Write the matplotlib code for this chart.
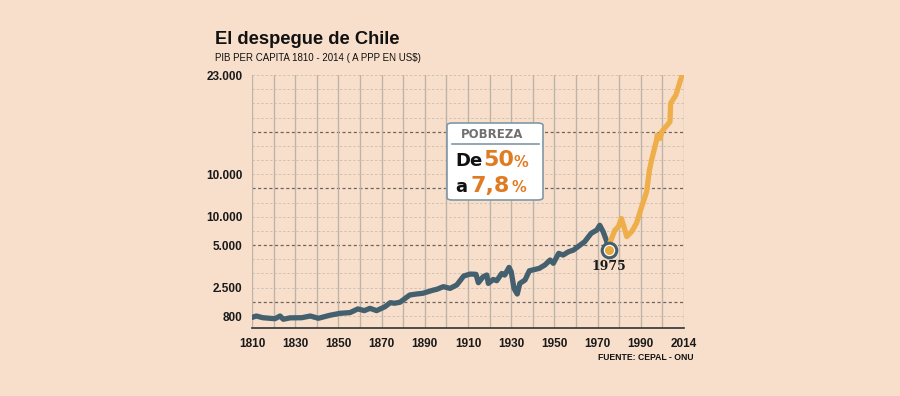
import numpy as np
import matplotlib.pyplot as plt
from matplotlib.patches import FancyBboxPatch

# dark series (1810-1975), y in chart grid units
years_a = [1810, 1812, 1815, 1820.6, 1823, 1824.5, 1827.6, 1833, 1837, 1840.7, 1846,
           1850.7, 1855.4, 1859, 1862, 1864.6, 1867.7, 1871.6, 1874, 1876, 1878.5,
           1883, 1886, 1889, 1894, 1895.5, 1898.6, 1901.7, 1904.8, 1908, 1911,
           1913.7, 1914.8, 1917, 1918.7, 1919.4, 1921.7, 1923.3, 1925.6, 1927, 1929,
           1930, 1931.3, 1932.8, 1934, 1936.4, 1938.4, 1943, 1945.6, 1948, 1949.5,
           1952, 1954, 1956.5, 1958.8, 1961, 1964, 1967, 1969.6, 1971, 1972.6, 1974, 1975]
vals_a = [-0.1, 0.0, -0.12, -0.19, 0.0, -0.23, -0.13, -0.12, 0.0, -0.16, 0.05,
          0.19, 0.24, 0.5, 0.38, 0.54, 0.38, 0.66, 0.94, 0.9, 0.97,
          1.48, 1.55, 1.6, 1.83, 1.88, 2.07, 1.95, 2.19, 2.82, 2.96,
          2.94, 2.35, 2.77, 2.89, 2.3, 2.58, 2.49, 3.0, 2.89, 3.43,
          3.12, 1.95, 1.55, 2.3, 2.54, 3.19, 3.36, 3.6, 3.95, 3.72,
          4.42, 4.3, 4.53, 4.65, 4.9, 5.24, 5.83, 6.06, 6.4, 5.94, 5.36, 4.88]

# orange series (1975-2014)
years_b = [1975.3, 1975.7, 1978, 1979.6, 1981, 1982.2, 1983.5, 1985.8, 1988, 1990.4,
           1992.7, 1994, 1995, 1997.3, 1997.6, 1999, 1999.7, 2003.5, 2003.8, 2006.3, 2008.9]
vals_b = [4.65, 5.17, 6.06, 6.3, 6.88, 6.3, 5.6, 5.96, 6.54, 7.7,
          8.77, 10.3, 11.0, 12.4, 12.76, 12.53, 13.0, 13.7, 15.0, 15.6, 16.9]

ytick_pos = [0, 2, 5, 7, 10, 17]
ytick_labels = ['800', '2.500', '5.000', '10.000', '10.000', '23.000']
xtick_pos = [1810, 1830, 1850, 1870, 1890, 1910, 1930, 1950, 1970, 1990, 2010]
xtick_labels = ['1810', '1830', '1850', '1870', '1890', '1910', '1930', '1950', '1970', '1990', '2014']

bg = '#f8dfcb'
dark = '#44606f'
orange = '#eeae4a'
sans = ['Liberation Sans', 'DejaVu Sans']

fig = plt.figure(figsize=(9, 3.96), dpi=100, facecolor=bg)
ax = fig.add_axes([0.28, 0.1717, 0.48, 0.6389], facecolor=bg)

ax.set_xlim(1810, 2010)
ax.set_ylim(-0.846, 17)

# grid
for yv in range(0, 18):
    if yv in (1, 5, 9, 13):
        ax.axhline(yv, color='#6e645e', lw=0.9, ls=(0, (2.5, 2)), zorder=1)
    else:
        ax.axhline(yv, color='#d3c1b2', lw=0.7, ls=(0, (2.5, 2)), zorder=1)
for xv in range(1810, 2011, 10):
    ax.axvline(xv, color='#bdb3ab', lw=1.0, zorder=1)

ax.plot(years_a, vals_a, color=dark, lw=3.8, solid_capstyle='round',
        solid_joinstyle='round', zorder=3)
ax.plot(years_b, vals_b, color=orange, lw=3.8, solid_capstyle='round',
        solid_joinstyle='round', zorder=3)

# 1975 marker
ax.scatter([1975.3], [4.65], s=110, color='white', edgecolor=dark, linewidth=2.2, zorder=5)
ax.scatter([1975.3], [4.65], s=30, color='#e8a93a', zorder=6)
ax.text(1975.3, 3.5, '1975', ha='center', va='center', fontsize=9, fontweight='bold',
        family='DejaVu Serif', color='#1a1a1a', zorder=6)

for s in ['top', 'right', 'left']:
    ax.spines[s].set_visible(False)
ax.spines['bottom'].set_color('#333333')
ax.spines['bottom'].set_linewidth(1.2)

ax.set_yticks(ytick_pos)
ax.set_yticklabels(ytick_labels)
ax.set_xticks(xtick_pos)
ax.set_xticklabels(xtick_labels)
ax.tick_params(axis='both', length=0, labelsize=8.5, colors='#1a1a1a')
ax.tick_params(axis='y', pad=7)
ax.tick_params(axis='x', pad=7)
for lab in ax.get_xticklabels() + ax.get_yticklabels():
    lab.set_family(sans)
    lab.set_fontweight('bold')

# titles
fig.text(215 / 900, 1 - 40 / 396, 'El despegue de Chile', fontsize=13.2, fontweight='bold',
         family=sans, color='#111111', va='center', ha='left')
fig.text(215 / 900, 1 - 58 / 396, 'PIB PER CAPITA 1810 - 2014 ( A PPP EN US$)', fontsize=7,
         family=sans, color='#111111', va='center', ha='left')
fig.text(694 / 900, 1 - 357 / 396, 'FUENTE: CEPAL - ONU', fontsize=6.2, fontweight='bold',
         family=sans, color='#111111', va='center', ha='right')

# poverty box
box = FancyBboxPatch((447 / 900, 1 - 200 / 396), 96 / 900, 77 / 396,
                     boxstyle='round,pad=0,rounding_size=0.006', transform=fig.transFigure,
                     facecolor='white', edgecolor='#8197a6', linewidth=1.2, zorder=10)
fig.add_artist(box)
fig.add_artist(plt.Line2D([452 / 900, 539 / 900], [1 - 144 / 396, 1 - 144 / 396],
                          transform=fig.transFigure, color='#8197a6', lw=1.2, zorder=11))
fig.text(492 / 900, 1 - 135 / 396, 'POBREZA', fontsize=8.5, fontweight='bold',
         color='#707070', ha='center', va='center', zorder=12)
fig.text(455 / 900, 1 - 161 / 396, 'De', fontsize=13, fontweight='bold',
         color='#111111', ha='left', va='center', zorder=12)
fig.text(483 / 900, 1 - 160 / 396, '50', fontsize=16, fontweight='bold',
         color='#e07b22', ha='left', va='center', zorder=12)
fig.text(514 / 900, 1 - 162 / 396, '%', fontsize=10.5, fontweight='bold',
         color='#e07b22', ha='left', va='center', zorder=12)
fig.text(455 / 900, 1 - 187 / 396, 'a', fontsize=13, fontweight='bold',
         color='#111111', ha='left', va='center', zorder=12)
fig.text(471 / 900, 1 - 186 / 396, '7,8', fontsize=16, fontweight='bold',
         color='#e07b22', ha='left', va='center', zorder=12)
fig.text(511 / 900, 1 - 188 / 396, '%', fontsize=10.5, fontweight='bold',
         color='#e07b22', ha='left', va='center', zorder=12)

fig.savefig('out.png', dpi=100, facecolor=bg)
